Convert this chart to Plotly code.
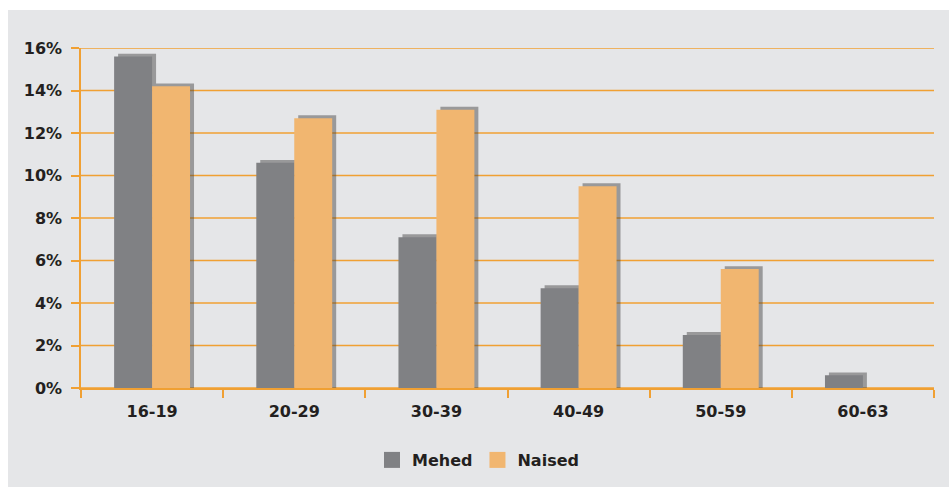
import plotly.graph_objects as go

# Age groups and share of employees by gender (%)
age_groups = ["16-19", "20-29", "30-39", "40-49", "50-59", "60-63"]
mehed = [15.6, 10.6, 7.1, 4.7, 2.5, 0.6]
naised = [14.2, 12.7, 13.1, 9.5, 5.6, None]
y_ticks = [0, 2, 4, 6, 8, 10, 12, 14, 16]
y_tick_labels = [f"{v}%" for v in y_ticks]

GREY_BAR = "#808184"
ORANGE_BAR = "#f1b670"
GRID = "#f0a033"
PANEL = "#e5e6e8"
FONT = "DejaVu Sans"
TEXT = "#231f20"

BAR_W = 0.267
SHADOW_DX = 0.028
SHADOW_DY = 0.13
X_RANGE = [-0.5, len(age_groups) - 0.5]


def shadow(vals):
    return [None if v is None else v + SHADOW_DY for v in vals]


fig = go.Figure()

# soft drop shadows behind the bars
for vals, off in ((mehed, -BAR_W), (naised, 0.0)):
    fig.add_trace(go.Bar(
        x=age_groups, y=shadow(vals), width=BAR_W, offset=off + SHADOW_DX,
        marker=dict(color="rgba(60,60,60,0.45)", line=dict(width=0)),
        showlegend=False, hoverinfo="skip",
    ))

fig.add_trace(go.Bar(
    x=age_groups, y=mehed, name="Mehed", width=BAR_W, offset=-BAR_W,
    marker=dict(color=GREY_BAR, line=dict(width=0)), showlegend=False,
))
fig.add_trace(go.Bar(
    x=age_groups, y=naised, name="Naised", width=BAR_W, offset=0.0,
    marker=dict(color=ORANGE_BAR, line=dict(width=0)), showlegend=False,
))

# legend entries with larger square swatches
for name, color in (("Mehed", GREY_BAR), ("Naised", ORANGE_BAR)):
    fig.add_trace(go.Scatter(
        x=[None], y=[None], mode="markers", name=name,
        marker=dict(symbol="square", size=17, color=color,
                    line=dict(width=0)),
    ))

# horizontal grid lines across the category range
shapes = [
    dict(type="line", xref="x", yref="y", x0=X_RANGE[0], x1=X_RANGE[1],
         y0=v, y1=v, line=dict(color=GRID, width=1.5), layer="below")
    for v in y_ticks
]
# white page border around the grey panel
shapes += [
    dict(type="rect", xref="paper", yref="paper", x0=-0.2, x1=1.2,
         y0=(388 - 10) / 340, y1=1.5, fillcolor="white", line=dict(width=0),
         layer="above"),
    dict(type="rect", xref="paper", yref="paper", x0=-0.2, x1=(8 - 81) / 853,
         y0=-0.5, y1=1.5, fillcolor="white", line=dict(width=0), layer="above"),
]

fig.update_layout(
    width=949, height=487,
    margin=dict(l=81, r=15, t=48, b=99, autoexpand=False),
    paper_bgcolor=PANEL, plot_bgcolor=PANEL,
    barmode="overlay",
    shapes=shapes,
    font=dict(family=FONT, size=16, color=TEXT),
    legend=dict(
        orientation="h", x=(478 - 81) / 853, xanchor="center",
        y=-(460 - 388) / 340, yanchor="middle",
        font=dict(family=FONT, size=16, color=TEXT, weight="bold"),
        itemwidth=30, traceorder="normal", bgcolor="rgba(0,0,0,0)",
        itemsizing="trace",
    ),
    showlegend=True,
)

fig.update_xaxes(
    type="category", range=X_RANGE, showgrid=False,
    showline=True, linecolor=GRID, linewidth=2,
    ticks="outside", tickson="boundaries", ticklen=8, tickwidth=1.5,
    tickcolor=GRID, ticklabelstandoff=8,
    tickfont=dict(family=FONT, size=16, color=TEXT, weight="bold"),
)
fig.update_yaxes(
    range=[0, 16], tickvals=y_ticks, ticktext=y_tick_labels,
    showgrid=False,
    showline=True, linecolor=GRID, linewidth=1.5,
    ticks="outside", ticklen=8, tickwidth=1.5, tickcolor=GRID,
    zeroline=False, ticklabelstandoff=6,
    tickfont=dict(family=FONT, size=16, color=TEXT, weight="bold"),
)

fig.write_html("out.html")
